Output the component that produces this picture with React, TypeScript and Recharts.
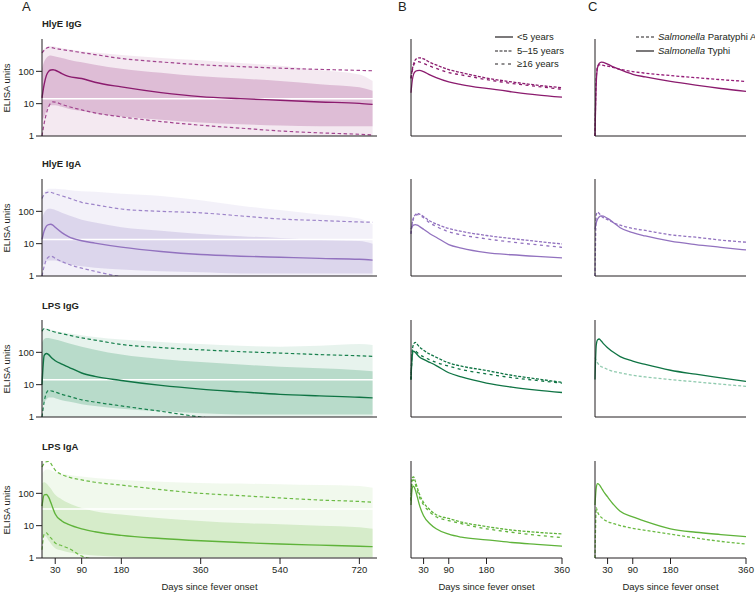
import React from "react";
import { ComposedChart, Line, Area, XAxis, YAxis, ReferenceLine } from "recharts";

const FONT = "'Liberation Sans', Arial, sans-serif";
const INK = "#231f20";
const FS = 9.5;

// day grids
const daysA = [0, 5, 10, 15, 20, 25, 30, 45, 60, 90, 120, 180, 270, 360, 450, 540, 630, 720, 750];
const daysBC = [0, 3, 6, 10, 15, 20, 30, 45, 60, 90, 120, 180, 240, 300, 360];

const ticksA = [30, 90, 180, 360, 540, 720];
const ticksB = [30, 90, 180, 360];
const ticksC = [30, 90, 180, 270, 360];
const ticksCLast = [30, 90, 180, 360];

const rowTitles = ["HlyE IgG", "HlyE IgA", "LPS IgG", "LPS IgA"];
const gapLines = [14.2, 13.5, 14.3, 33];

// HlyE IgG
const hlyeIgGMedian = [15, 40, 75, 100, 110, 112, 108, 85, 70, 60, 46, 33, 22, 16.5, 14.3, 12.8, 11.3, 10.2, 9.5];
const hlyeIgGUpper = [370, 450, 520, 550, 545, 530, 510, 470, 440, 380, 330, 250, 195, 160, 140, 125, 115, 107, 104];
const hlyeIgGLower = [1, 2.5, 5, 8, 10.5, 11.4, 11.2, 9.5, 8.2, 6.4, 5.2, 3.9, 2.8, 2.15, 1.75, 1.43, 1.25, 1.13, 1.08];
const hlyeIgGCloudHi = [400, 500, 550, 600, 600, 600, 580, 520, 480, 420, 380, 320, 260, 220, 180, 150, 110, 80, 50];
const hlyeIgGCoreLo = [3, 4, 6, 8, 9, 9, 9, 8, 7, 6, 5, 4, 3.2, 2.6, 2.3, 2.1, 2, 2, 2];
const hlyeIgGCoreHi = [120, 200, 260, 300, 310, 300, 290, 260, 230, 190, 160, 120, 90, 70, 60, 50, 40, 32, 25];
const hlyeIgGUnder5 = [16, 35, 52, 62, 66, 67, 62, 50, 42, 32, 27, 21, 17, 14, 12];
const hlyeIgG5to15 = [40, 70, 100, 130, 145, 150, 140, 112, 95, 70, 58, 41, 32, 26, 22];
const hlyeIgG16plus = [40, 65, 90, 110, 117, 115, 105, 88, 76, 58, 50, 37, 29, 24, 20];
const hlyeIgGTyphi = [1, 30, 80, 105, 114, 112, 100, 82, 70, 52, 44, 33, 26, 21, 17.5];
const hlyeIgGParatyphi = [1, 40, 85, 95, 95, 92, 88, 80, 72, 62, 56, 48, 42, 37, 33];

// HlyE IgA
const hlyeIgAMedian = [13.5, 25, 35, 39, 40, 37, 32, 22, 16.5, 12.3, 10.4, 7.8, 5.7, 4.6, 4.1, 3.8, 3.5, 3.3, 3.1];
const hlyeIgAUpper = [250, 330, 380, 395, 390, 370, 350, 300, 260, 190, 160, 118, 100, 90, 72, 58, 52, 47, 46];
const hlyeIgALower = [1, 2, 3.2, 3.9, 4.1, 3.9, 3.5, 2.8, 2.3, 1.75, 1.4, 0.95, 0.7, 0.55, 0.45, 0.4, 0.35, 0.3, 0.3];
const hlyeIgACloudHi = [300, 400, 450, 500, 500, 500, 500, 480, 460, 420, 400, 350, 300, 220, 150, 110, 80, 60, 40];
const hlyeIgACoreLo = [2, 2.5, 3, 3, 3, 3, 3, 2.6, 2.3, 2, 1.8, 1.6, 1.4, 1.3, 1.2, 1.2, 1.2, 1.2, 1.2];
const hlyeIgACoreHi = [60, 90, 110, 120, 120, 115, 110, 90, 75, 55, 45, 32, 25, 20, 17, 15, 13, 12, 10];
const hlyeIgAUnder5 = [20, 24, 26, 27, 26, 24, 20, 15, 12, 7.5, 6, 4.5, 3.9, 3.5, 3.2];
const hlyeIgA5to15 = [15, 30, 42, 50, 55, 53, 45, 34, 28, 21, 17.5, 13.4, 11, 9.2, 7.8];
const hlyeIgA16plus = [15, 28, 40, 48, 51, 49, 42, 30, 24, 17, 14, 10.8, 8.8, 7.4, 6.3];
const hlyeIgATyphi = [20, 30, 38, 44, 47, 46, 40, 30, 22, 16, 13, 9.3, 7.5, 6.3, 5.3];
const hlyeIgAParatyphi = [1, 50, 60, 55, 46, 42, 37, 30, 26, 21, 18.5, 14, 12, 10, 8.7];

// LPS IgG
const lpsIgGMedian = [10, 80, 92, 85, 72, 62, 55, 43, 35, 23, 18, 13.5, 9.5, 7.3, 6, 5, 4.5, 4.1, 3.9];
const lpsIgGUpper = [450, 540, 520, 490, 460, 440, 420, 380, 340, 280, 240, 175, 140, 120, 105, 95, 85, 78, 75];
const lpsIgGLower = [1, 3, 5.5, 6.7, 6.5, 6.2, 5.9, 5, 4.4, 3.4, 2.9, 2.2, 1.5, 1, 0.75, 0.6, 0.5, 0.45, 0.42];
const lpsIgGCloudHi = [500, 550, 550, 530, 500, 480, 460, 420, 390, 340, 300, 250, 210, 180, 160, 150, 160, 180, 170];
const lpsIgGCoreLo = [3, 3, 3.5, 4, 4, 4, 3.8, 3.3, 3, 2.5, 2.2, 1.8, 1.5, 1.3, 1.2, 1.2, 1.2, 1.2, 1.2];
const lpsIgGCoreHi = [200, 260, 280, 280, 270, 260, 250, 220, 190, 150, 120, 85, 62, 50, 42, 36, 32, 28, 26];
const lpsIgGUnder5 = [11, 50, 68, 63, 54, 47, 40, 33, 27, 17, 13, 8.8, 6.8, 5.6, 4.8];
const lpsIgG5to15 = [11, 70, 105, 119, 105, 90, 72, 56, 46, 32, 26, 19.6, 14.5, 11.5, 9.2];
const lpsIgG16plus = [11, 60, 72, 70, 62, 55, 47, 39, 33, 26, 21, 15.8, 12.5, 10.4, 8.8];
const lpsIgGTyphi = [11, 100, 140, 148, 130, 110, 85, 62, 48, 36, 29, 20, 15.5, 12.3, 9.8];
const lpsIgGParatyphi = [45, 37, 32, 28, 25, 24, 21, 18.5, 17, 14.5, 13, 11, 9.5, 8.2, 7.1];

// LPS IgA
const lpsIgAMedian = [40, 90, 92, 76, 52, 34, 23, 14, 11, 8, 6.5, 5, 4, 3.4, 3, 2.7, 2.5, 2.3, 2.25];
const lpsIgAUpper = [650, 850, 950, 980, 850, 650, 520, 380, 320, 260, 220, 180, 130, 100, 85, 72, 62, 56, 53];
const lpsIgALower = [1.8, 5.5, 6, 5, 4.2, 3.5, 2.9, 2.4, 2, 1.15, 0.9, 0.6, 0.45, 0.4, 0.35, 0.3, 0.3, 0.3, 0.3];
const lpsIgACloudHi = [400, 500, 550, 550, 520, 480, 450, 400, 370, 330, 300, 260, 230, 210, 200, 190, 180, 170, 150];
const lpsIgACoreLo = [4, 5, 4.5, 3.5, 2.8, 2.3, 2, 1.7, 1.5, 1.3, 1.2, 1.1, 1.05, 1.05, 1.05, 1.05, 1.05, 1.05, 1.05];
const lpsIgACoreHi = [200, 220, 200, 170, 140, 110, 90, 65, 50, 35, 28, 22, 17, 14, 12, 11, 10, 9, 8];
const lpsIgAUnder5 = [30, 90, 100, 80, 50, 30, 15, 9, 6.5, 4.6, 3.8, 3.2, 2.7, 2.4, 2.15];
const lpsIgA5to15 = [40, 170, 180, 140, 90, 60, 35, 22, 16, 12.6, 10, 7.5, 6, 5.2, 4.7];
const lpsIgA16plus = [40, 140, 150, 115, 75, 50, 30, 19, 14, 11, 9, 6.5, 5.2, 4.3, 3.7];
const lpsIgATyphi = [30, 90, 117, 110, 90, 72, 50, 30, 20, 14, 10.5, 6.5, 5.2, 4.5, 3.95];
const lpsIgAParatyphi = [1, 25, 19, 15.5, 13.5, 12, 10.3, 9, 8, 6.7, 5.9, 4.6, 3.6, 2.9, 2.45];

const rows = [
  {
    median: hlyeIgGMedian, upper: hlyeIgGUpper, lower: hlyeIgGLower,
    cloudHi: hlyeIgGCloudHi, coreLo: hlyeIgGCoreLo, coreHi: hlyeIgGCoreHi,
    under5: hlyeIgGUnder5, age5to15: hlyeIgG5to15, age16plus: hlyeIgG16plus,
    typhi: hlyeIgGTyphi, paratyphi: hlyeIgGParatyphi,
    line: "#8b1b6e", dash: "#a2458f", cloud: "#a2488c", para: "#951c78",
  },
  {
    median: hlyeIgAMedian, upper: hlyeIgAUpper, lower: hlyeIgALower,
    cloudHi: hlyeIgACloudHi, coreLo: hlyeIgACoreLo, coreHi: hlyeIgACoreHi,
    under5: hlyeIgAUnder5, age5to15: hlyeIgA5to15, age16plus: hlyeIgA16plus,
    typhi: hlyeIgATyphi, paratyphi: hlyeIgAParatyphi,
    line: "#9272bf", dash: "#9d84c9", cloud: "#a08ccd", para: "#9272bf",
  },
  {
    median: lpsIgGMedian, upper: lpsIgGUpper, lower: lpsIgGLower,
    cloudHi: lpsIgGCloudHi, coreLo: lpsIgGCoreLo, coreHi: lpsIgGCoreHi,
    under5: lpsIgGUnder5, age5to15: lpsIgG5to15, age16plus: lpsIgG16plus,
    typhi: lpsIgGTyphi, paratyphi: lpsIgGParatyphi,
    line: "#0f7444", dash: "#17804d", cloud: "#3a9a6b", para: "#8fcaae",
  },
  {
    median: lpsIgAMedian, upper: lpsIgAUpper, lower: lpsIgALower,
    cloudHi: lpsIgACloudHi, coreLo: lpsIgACoreLo, coreHi: lpsIgACoreHi,
    under5: lpsIgAUnder5, age5to15: lpsIgA5to15, age16plus: lpsIgA16plus,
    typhi: lpsIgATyphi, paratyphi: lpsIgAParatyphi,
    line: "#5fb33a", dash: "#6cbb45", cloud: "#8ccb6b", para: "#6cbb45",
  },
];

const axisTops = [39, 179, 320, 461];
const titleTops = [18, 158, 300, 441];
const PLOT_H = 97;
const TOP_M = 5;

const tickStyle = { fontSize: FS, fill: INK, fontFamily: FONT };
const axisStroke = { stroke: INK, strokeWidth: 1 };
const xLabel = { value: "Days since fever onset", position: "insideBottom" as const, offset: 2, ...tickStyle };

function PanelA({ idx }: { idx: number }) {
  const row = rows[idx];
  const last = idx === 3;
  const xh = last ? 34 : 12;
  const data = daysA.map((day, i) => ({
    day,
    median: row.median[i],
    upper: row.upper[i],
    lower: row.lower[i],
    cloud: [1, row.cloudHi[i]],
    core: [row.coreLo[i], row.coreHi[i]],
  }));
  return (
    <div style={{ position: "absolute", left: 0, top: axisTops[idx] - TOP_M }}>
      <ComposedChart width={380} height={TOP_M + PLOT_H + xh} data={data} margin={{ top: TOP_M, right: 3, bottom: 0, left: 0 }}>
        <XAxis
          type="number"
          dataKey="day"
          domain={[0, 760]}
          ticks={ticksA}
          interval={0}
          height={xh}
          tick={last ? tickStyle : false}
          tickLine={axisStroke}
          axisLine={axisStroke}
          label={last ? xLabel : undefined}
        />
        <YAxis
          type="number"
          scale="log"
          domain={[1, 1000]}
          allowDataOverflow
          ticks={[1, 10, 100]}
          interval={0}
          width={42}
          tick={tickStyle}
          tickLine={axisStroke}
          axisLine={axisStroke}
        />
        <Area type="monotone" dataKey="cloud" stroke="none" fill={row.cloud} fillOpacity={0.12} isAnimationActive={false} />
        <Area type="monotone" dataKey="core" stroke="none" fill={row.cloud} fillOpacity={0.27} isAnimationActive={false} />
        <ReferenceLine y={gapLines[idx]} stroke="#ffffff" strokeWidth={1.5} />
        <Line type="monotone" dataKey="upper" stroke={row.dash} strokeWidth={1.2} strokeDasharray="3.5 2.5" dot={false} isAnimationActive={false} />
        <Line type="monotone" dataKey="lower" stroke={row.dash} strokeWidth={1.2} strokeDasharray="3.5 2.5" dot={false} isAnimationActive={false} />
        <Line type="monotone" dataKey="median" stroke={row.line} strokeWidth={1.4} dot={false} isAnimationActive={false} />
      </ComposedChart>
    </div>
  );
}

function PanelB({ idx }: { idx: number }) {
  const row = rows[idx];
  const last = idx === 3;
  const xh = last ? 34 : 12;
  const data = daysBC.map((day, i) => ({
    day,
    under5: row.under5[i],
    age5to15: row.age5to15[i],
    age16plus: row.age16plus[i],
  }));
  return (
    <div style={{ position: "absolute", left: 401, top: axisTops[idx] - TOP_M }}>
      <ComposedChart width={172} height={TOP_M + PLOT_H + xh} data={data} margin={{ top: TOP_M, right: 11, bottom: 0, left: 0 }}>
        <XAxis
          type="number"
          dataKey="day"
          domain={[0, 360]}
          ticks={ticksB}
          interval={0}
          height={xh}
          tick={last ? tickStyle : false}
          tickLine={axisStroke}
          axisLine={axisStroke}
          label={last ? xLabel : undefined}
        />
        <YAxis type="number" scale="log" domain={[1, 500]} allowDataOverflow ticks={[10, 100]} interval={0} width={10} tick={false} tickLine={axisStroke} axisLine={axisStroke} />
        <Line type="monotone" dataKey="age16plus" stroke={row.line} strokeWidth={1.3} strokeDasharray="3 3.5" dot={false} isAnimationActive={false} />
        <Line type="monotone" dataKey="age5to15" stroke={row.line} strokeWidth={1.3} strokeDasharray="3 1.5" dot={false} isAnimationActive={false} />
        <Line type="monotone" dataKey="under5" stroke={row.line} strokeWidth={1.3} dot={false} isAnimationActive={false} />
      </ComposedChart>
    </div>
  );
}

function PanelC({ idx }: { idx: number }) {
  const row = rows[idx];
  const last = idx === 3;
  const xh = last ? 34 : 12;
  const data = daysBC.map((day, i) => ({
    day,
    typhi: row.typhi[i],
    paratyphi: row.paratyphi[i],
  }));
  return (
    <div style={{ position: "absolute", left: 585, top: axisTops[idx] - TOP_M }}>
      <ComposedChart width={172} height={TOP_M + PLOT_H + xh} data={data} margin={{ top: TOP_M, right: 11, bottom: 0, left: 0 }}>
        <XAxis
          type="number"
          dataKey="day"
          domain={[0, 360]}
          ticks={last ? ticksCLast : ticksC}
          interval={0}
          height={xh}
          tick={last ? tickStyle : false}
          tickLine={axisStroke}
          axisLine={axisStroke}
          label={last ? xLabel : undefined}
        />
        <YAxis type="number" scale="log" domain={[1, 500]} allowDataOverflow ticks={[10, 100]} interval={0} width={10} tick={false} tickLine={axisStroke} axisLine={axisStroke} />
        <Line type="monotone" dataKey="paratyphi" stroke={row.para} strokeWidth={1.3} strokeDasharray="3 2" dot={false} isAnimationActive={false} />
        <Line type="monotone" dataKey="typhi" stroke={row.line} strokeWidth={1.3} dot={false} isAnimationActive={false} />
      </ComposedChart>
    </div>
  );
}

function LegendItem({ left, top, dash, children }: { left: number; top: number; dash?: string; children: React.ReactNode }) {
  return (
    <div style={{ position: "absolute", left, top, display: "flex", alignItems: "center", whiteSpace: "nowrap", fontSize: FS, lineHeight: "12px", color: INK }}>
      <svg width={19} height={6} style={{ marginRight: 3 }}>
        <line x1={0} y1={3} x2={18} y2={3} stroke={INK} strokeWidth={1.2} strokeDasharray={dash} />
      </svg>
      <span>{children}</span>
    </div>
  );
}

const abs = (left: number, top: number, extra: React.CSSProperties = {}): React.CSSProperties => ({
  position: "absolute",
  left,
  top,
  color: INK,
  whiteSpace: "nowrap",
  ...extra,
});

export default function App() {
  return (
    <div style={{ position: "absolute", left: 0, top: 0, width: 755, height: 594, overflow: "hidden", background: "#fff", fontFamily: FONT }}>
      <div style={abs(22, -1, { fontSize: 13 })}>A</div>
      <div style={abs(398, -1, { fontSize: 13 })}>B</div>
      <div style={abs(588, -1, { fontSize: 13 })}>C</div>

      {rowTitles.map((t, i) => (
        <div key={t} style={abs(42, titleTops[i], { fontSize: FS, lineHeight: "12px", fontWeight: 700 })}>{t}</div>
      ))}
      {axisTops.map((top, i) => (
        <div
          key={i}
          style={abs(6.5 - 40, top + PLOT_H / 2 - 6, {
            width: 80,
            height: 12,
            fontSize: FS,
            lineHeight: "12px",
            textAlign: "center",
            transform: "rotate(-90deg)",
          })}
        >
          ELISA units
        </div>
      ))}

      {[0, 1, 2, 3].map((i) => (
        <React.Fragment key={i}>
          <PanelA idx={i} />
          <PanelB idx={i} />
          <PanelC idx={i} />
        </React.Fragment>
      ))}

      <LegendItem left={495} top={31}>&lt;5 years</LegendItem>
      <LegendItem left={495} top={45} dash="3 1.5">5–15 years</LegendItem>
      <LegendItem left={495} top={58} dash="3 3.5">≥16 years</LegendItem>

      <LegendItem left={636} top={31} dash="3 2">
        <i>Salmonella</i> Paratyphi A
      </LegendItem>
      <LegendItem left={636} top={45}>
        <i>Salmonella</i> Typhi
      </LegendItem>
    </div>
  );
}
